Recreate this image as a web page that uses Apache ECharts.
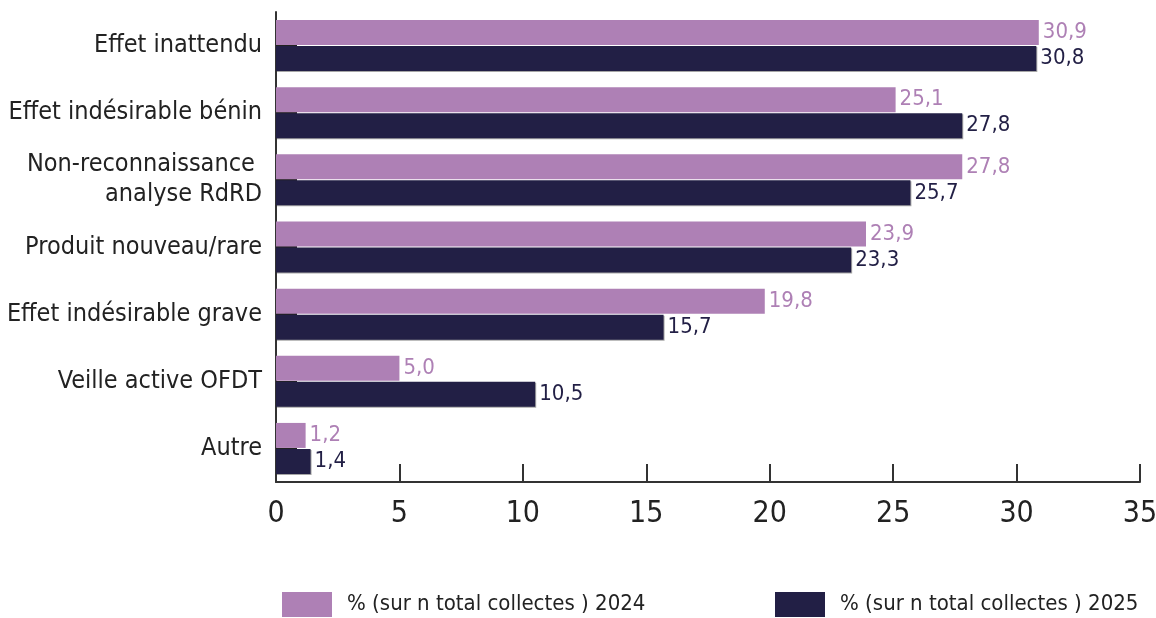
<!DOCTYPE html>
<html><head><meta charset="utf-8">
<script src="https://cdn.jsdelivr.net/npm/echarts@6/dist/echarts.min.js"></script>
<style>html,body{margin:0;padding:0;background:#fff}#c{width:1156px;height:618px}</style>
</head><body><div id="c"></div>
<script>
const categories = ['Effet inattendu','Effet indésirable bénin','Non-reconnaissance \nanalyse RdRD','Produit nouveau/rare','Effet indésirable grave','Veille active OFDT','Autre'];
const values2024 = [30.9,25.1,27.8,23.9,19.8,5.0,1.2];
const values2025 = [30.8,27.8,25.7,23.3,15.7,10.5,1.4];
const name2024 = '% (sur n total collectes ) 2024';
const name2025 = '% (sur n total collectes ) 2025';
const xTicks = [0,5,10,15,20,25,30,35];

const FONT = '"Liberation Sans Narrow","DejaVu Sans Condensed","Roboto Condensed",sans-serif';
const C24 = '#ae80b5', C25 = '#221f45';
const fmt = p => p.value.toFixed(1).replace('.', ',');

const chart = echarts.init(document.getElementById('c'));
chart.setOption({
  animation:false,
  textStyle:{fontFamily:FONT},
  grid:{left:276,right:16,top:12,bottom:136,containLabel:false,outerBoundsMode:'none'},
  legend:[
    {data:[name2024],left:282,top:592,padding:0,itemWidth:50,itemHeight:25,itemGap:0,
     textStyle:{fontFamily:FONT,fontSize:22,color:'#222',padding:[3,0,0,10]},icon:'rect'},
    {data:[name2025],left:775,top:592,padding:0,itemWidth:50,itemHeight:25,itemGap:0,
     textStyle:{fontFamily:FONT,fontSize:22,color:'#222',padding:[3,0,0,10]},icon:'rect'}
  ],
  xAxis:{type:'value',min:xTicks[0],max:xTicks[xTicks.length-1],interval:5,
    axisLine:{show:true,lineStyle:{color:'#333',width:2}},
    axisTick:{show:true,inside:true,length:18,lineStyle:{color:'#333',width:2}},
    splitLine:{show:false},
    axisLabel:{fontFamily:FONT,fontSize:30,color:'#222',margin:17}},
  yAxis:{type:'category',inverse:true,data:categories,
    axisLine:{show:true,lineStyle:{color:'#333',width:2}},
    axisTick:{show:true,inside:true,alignWithLabel:true,length:21,lineStyle:{color:'#222',width:2}},
    axisLabel:{fontFamily:FONT,fontSize:25,color:'#222',margin:14,lineHeight:30,align:'right'}},
  series:[
    {name:name2024,type:'bar',data:values2024,barWidth:25,barGap:'4%',
     itemStyle:{color:C24},
     label:{show:true,position:'right',distance:4,formatter:fmt,fontFamily:FONT,fontSize:22,color:C24}},
    {name:name2025,type:'bar',data:values2025,barWidth:25,
     itemStyle:{color:C25,shadowColor:'rgba(0,0,0,0.35)',shadowOffsetX:1,shadowOffsetY:1},
     label:{show:true,position:'right',distance:4,formatter:fmt,fontFamily:FONT,fontSize:22,color:C25}}
  ]
});
</script></body></html>
